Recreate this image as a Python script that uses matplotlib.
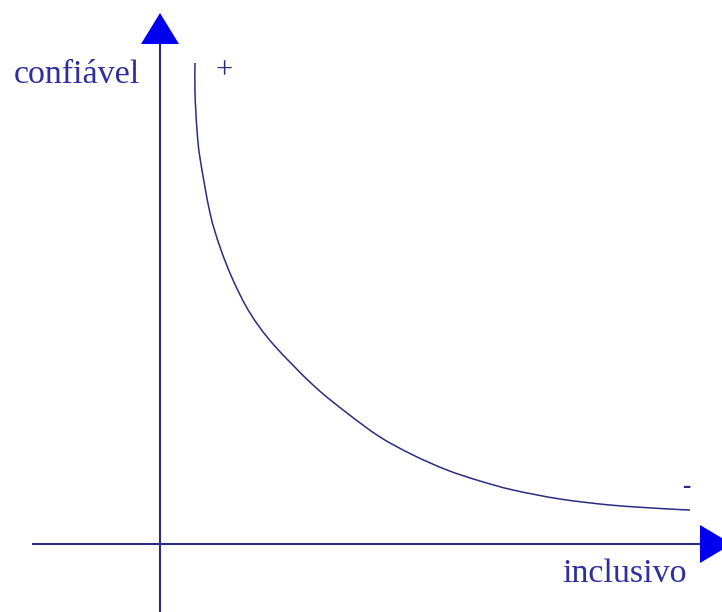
import matplotlib
matplotlib.use("Agg")
import matplotlib.pyplot as plt
from matplotlib.patches import Polygon, PathPatch
from matplotlib.path import Path

# Curve values (data units: pixels relative to axis origin)
curve_x = [35, 35, 37, 40, 50, 60, 73, 90, 113, 153, 187, 220, 253, 287, 320, 353, 400, 450, 500, 530]
curve_y = [481, 451, 414, 386, 331, 297, 264, 231, 200, 159, 131, 107, 89, 74, 63, 54, 45, 39, 35.5, 34]

y_label = "confiável"
x_label = "inclusivo"
high_mark = "+"
low_mark = "-"

line_col = "#2b2b80"
text_col = "#2e2ea0"
arrow_col = "#0000f0"

fig = plt.figure(figsize=(7.22, 6.12), dpi=100)
ax = fig.add_axes([0, 0, 1, 1])
ax.set_xlim(-160, 562)
ax.set_ylim(-68, 544)
ax.axis("off")

# axes lines
ax.plot([0, 0], [-70, 500], color=line_col, lw=1.5, solid_capstyle="butt")
ax.plot([-128, 540], [0, 0], color=line_col, lw=1.5, solid_capstyle="butt")
ax.add_patch(Polygon([[-19, 500], [19, 500], [0, 531]], closed=True, color=arrow_col, lw=0))
ax.add_patch(Polygon([[540, 19], [540, -19], [572, 0]], closed=True, color=arrow_col, lw=0, clip_on=False))

# smooth curve through the points (Catmull-Rom as cubic Bezier path)
pts = list(zip(curve_x, curve_y))
verts = [pts[0]]
codes = [Path.MOVETO]
n = len(pts)
for i in range(n - 1):
    p0 = pts[i - 1] if i > 0 else pts[i]
    p1 = pts[i]
    p2 = pts[i + 1]
    p3 = pts[i + 2] if i + 2 < n else pts[i + 1]
    c1 = (p1[0] + (p2[0] - p0[0]) / 6, p1[1] + (p2[1] - p0[1]) / 6)
    c2 = (p2[0] - (p3[0] - p1[0]) / 6, p2[1] - (p3[1] - p1[1]) / 6)
    verts += [c1, c2, p2]
    codes += [Path.CURVE4] * 3
ax.add_patch(PathPatch(Path(verts, codes), fill=False, edgecolor=line_col, lw=1.1))

font = "Liberation Serif"
ax.text(-20, 461, y_label, ha="right", va="baseline", fontsize=24.5, family=font, color=text_col)
ax.text(527, -38, x_label, ha="right", va="baseline", fontsize=24.5, family=font, color=text_col)
ax.text(64, 473, high_mark, ha="center", va="center", fontsize=22, family=font, color=line_col)
ax.text(526, 57, low_mark, ha="center", va="center", fontsize=18, family=font, color=line_col, fontweight="bold")

fig.savefig("out.png", dpi=100)
